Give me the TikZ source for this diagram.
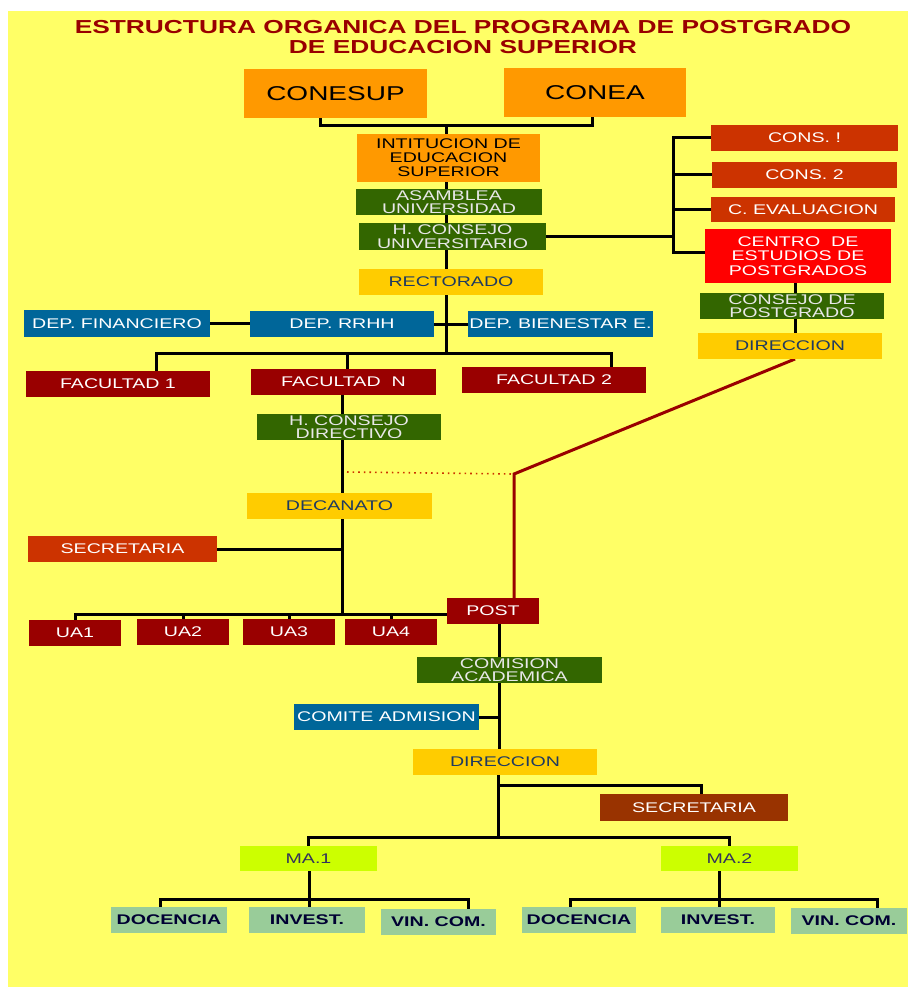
\documentclass[tikz,border=0pt]{standalone}
\usepackage{fontspec}
\newfontfamily\wf[FakeStretch=1.4]{Liberation Sans}
\definecolor{cYel}{HTML}{FFFF66}
\definecolor{cOra}{HTML}{FF9900}
\definecolor{cGrn}{HTML}{336600}
\definecolor{cGold}{HTML}{FFCC00}
\definecolor{cRust}{HTML}{CC3300}
\definecolor{cRed}{HTML}{FF0000}
\definecolor{cBlue}{HTML}{006699}
\definecolor{cDred}{HTML}{990000}
\definecolor{cBrown}{HTML}{993300}
\definecolor{cLime}{HTML}{CCFF00}
\definecolor{cSage}{HTML}{99CC99}
\definecolor{cNavy}{HTML}{1F3A60}
\definecolor{cLight}{HTML}{E8E8E8}
\definecolor{cTitle}{HTML}{990000}
\definecolor{cDark}{HTML}{000033}
\pgfdeclarelayer{bgl}
\pgfdeclarelayer{lnl}
\pgfsetlayers{bgl,lnl,main}
\tikzset{
  box/.style={rectangle, inner sep=0pt, outer sep=0pt, align=center,
    font=\wf\fontsize{14}{14}\selectfont},
  sz/.style n args={2}{minimum width=#1pt, minimum height=#2pt},
  ora/.style={box, fill=cOra, text=black},
  grn/.style={box, fill=cGrn, text=cLight, font=\wf\fontsize{14}{13.5}\selectfont},
  gld/.style={box, fill=cGold, text=cNavy},
  rst/.style={box, fill=cRust, text=white},
  blu/.style={box, fill=cBlue, text=white},
  drd/.style={box, fill=cDred, text=white},
  lim/.style={box, fill=cLime, text=cDark!80!white},
  sag/.style={box, fill=cSage, text=cDark, font=\wf\bfseries\fontsize{14}{14}\selectfont},
  conn/.style={line width=3pt, black},
  redl/.style={line width=3pt, cDred},
  dotl/.style={line width=1.6pt, cRust, dash pattern=on 1.6pt off 4pt}
}
\begin{document}
\begin{tikzpicture}[x=1pt, y=-1pt]
\useasboundingbox (0,0) rectangle (908,987);
\begin{pgfonlayer}{bgl}
\fill[white] (0,0) rectangle (908,987);
\fill[cYel] (8,11) rectangle (908,987);
\end{pgfonlayer}

% title
\node[align=center, text=cTitle, font=\wf\bfseries\fontsize{18.8}{20}\selectfont] (title) at (463,37)
  {ESTRUCTURA ORGANICA DEL PROGRAMA DE POSTGRADO\\DE EDUCACION SUPERIOR};

% top
\node[ora, sz={183}{49}, font=\wf\fontsize{20}{20}\selectfont] (conesup) at (335.5,93.5) {CONESUP};
\node[ora, sz={182}{49}, font=\wf\fontsize{20}{20}\selectfont] (conea) at (595,92.5) {CONEA};
\node[ora, sz={183}{48}] (ies) at (448.5,158) {INTITUCION DE\\EDUCACION\\SUPERIOR};
\node[grn, sz={186}{26}] (asamblea) at (449,202) {ASAMBLEA\\UNIVERSIDAD};
\node[grn, sz={187}{27}] (hcu) at (452.5,236.5) {H. CONSEJO\\UNIVERSITARIO};
\node[gld, sz={184}{26}] (rector) at (451,282) {RECTORADO};

% right column
\node[rst, sz={187}{26}] (cons1) at (804.5,138) {CONS. !};
\node[rst, sz={185}{26}] (cons2) at (804.5,175) {CONS. 2};
\node[rst, sz={184}{25}] (ceval) at (803,209.5) {C. EVALUACION};
\node[box, fill=cRed, text=white, sz={186}{54}, font=\wf\fontsize{14}{14.5}\selectfont] (centro) at (798,256) {CENTRO\ \ DE\\ESTUDIOS DE\\POSTGRADOS};
\node[grn, sz={184}{26}] (cpost) at (792,306) {CONSEJO DE\\POSTGRADO};
\node[gld, sz={184}{26}] (dirR) at (790,346) {DIRECCION};

% departments
\node[blu, sz={186}{27}] (depfin) at (117,323.5) {DEP. FINANCIERO};
\node[blu, sz={184}{26}] (rrhh) at (342,324) {DEP. RRHH};
\node[blu, sz={185}{26}] (bien) at (560.5,324) {DEP. BIENESTAR E.};

% faculties
\node[drd, sz={184}{26}] (fac1) at (118,384) {FACULTAD 1};
\node[drd, sz={185}{26}] (facN) at (343.5,382) {FACULTAD\ \ N};
\node[drd, sz={184}{26}] (fac2) at (554,380) {FACULTAD 2};
\node[grn, sz={184}{26}] (hcd) at (349,427) {H. CONSEJO\\DIRECTIVO};
\node[gld, sz={185}{26}] (decanato) at (339.5,506) {DECANATO};
\node[rst, sz={189}{26}] (secr1) at (122.5,549) {SECRETARIA};

% UA + post
\node[drd, sz={92}{26}] (ua1) at (75,633) {UA1};
\node[drd, sz={92}{26}] (ua2) at (183,632) {UA2};
\node[drd, sz={92}{26}] (ua3) at (289,632) {UA3};
\node[drd, sz={92}{26}] (ua4) at (391,632) {UA4};
\node[drd, sz={92}{26}] (post) at (493,611) {POST};

% lower
\node[grn, sz={185}{26}] (comision) at (509.5,670) {COMISION\\ACADEMICA};
\node[blu, sz={185}{26}] (comite) at (386.5,717) {COMITE ADMISION};
\node[gld, sz={184}{26}] (dirL) at (505,762) {DIRECCION};
\node[box, fill=cBrown, text=white, sz={188}{27}] (secr2) at (694,807.5) {SECRETARIA};
\node[lim, sz={137}{25}] (ma1) at (308.5,858.5) {MA.1};
\node[lim, sz={137}{25}] (ma2) at (729.5,858.5) {MA.2};
\node[sag, sz={116}{26}] (doc1) at (169,920) {DOCENCIA};
\node[sag, sz={116}{26}] (inv1) at (307,920) {INVEST.};
\node[sag, sz={115}{26}] (vin1) at (438.5,922) {VIN. COM.};
\node[sag, sz={114}{26}] (doc2) at (579,920) {DOCENCIA};
\node[sag, sz={114}{26}] (inv2) at (718,920) {INVEST.};
\node[sag, sz={116}{26}] (vin2) at (849,921) {VIN. COM.};

% junction coordinates
\coordinate (j1) at (446,126);
\coordinate (fb) at (446,353);
\coordinate (brm) at (673,236.5);
\coordinate (cx) at (795,300);
\coordinate (ub) at (342,614);
\coordinate (dt1) at (347,472);
\coordinate (rk) at (514,474);
\coordinate (sj) at (498,785);
\coordinate (mb) at (498,837);
\coordinate (lb1) at (309,899);
\coordinate (lb2) at (719,899);

\begin{pgfonlayer}{lnl}
\draw[conn] ([xshift=-15pt]conesup.south) |- (j1) -| ([xshift=-3pt]conea.south);
\draw[conn] (j1) -- (fb);
\draw[conn] (hcu.east) -- (brm);
\draw[conn] (cons1.west) -| ([yshift=4pt]centro.west -| brm) -- ([yshift=4pt]centro.west);
\draw[conn] (cons2.west) -- (cons2.west -| brm);
\draw[conn] (ceval.west) -- (ceval.west -| brm);
\draw[conn] (centro.south -| cx) -- (dirR.north -| cx);
\draw[conn] (depfin.east) -- (depfin.east -| rrhh.west);
\draw[conn] (rrhh.east) -- (bien.west);
\draw[conn] ([xshift=38pt]fac1.north) |- (fb) -| ([xshift=57pt]fac2.north);
\draw[conn] ([xshift=4pt]facN.north) -- ([xshift=4pt]facN.north |- fb);
\draw[conn] ([xshift=-1.5pt]facN.south) -- (ub);
\draw[conn] (secr1.east) -- (secr1.east -| ub);
\draw[conn] (ua1.north) |- (ub) -- (ub -| post.west);
\draw[conn] (ua2.north) -- (ua2.north |- ub);
\draw[conn] (ua3.north) -- (ua3.north |- ub);
\draw[conn] (ua4.north) -- (ua4.north |- ub);
\draw[conn] ([xshift=6pt]post.south) -- ([xshift=6pt]post.south |- dirL.north);
\draw[conn] (comite.east) -- ([xshift=6pt]comite.east -| post.south);
\draw[conn] ([xshift=-7pt]dirL.south) -- (mb);
\draw[conn] (sj) -| ([xshift=7pt]secr2.north);
\draw[conn] (ma1.north) |- (mb) -| (ma2.north);
\draw[conn] (ma1.south -| lb1) -- (lb1);
\draw[conn] ([xshift=-9pt]doc1.north) |- (lb1) -| ([xshift=30pt]vin1.north);
\draw[conn] (lb1) -- (inv1.north -| lb1);
\draw[conn] (ma2.south -| lb2) -- (lb2);
\draw[conn] ([xshift=-9pt]doc2.north) |- (lb2) -| ([xshift=28pt]vin2.north);
\draw[conn] (lb2) -- (inv2.north -| lb2);
\draw[dotl] (dt1) -- (rk);
\draw[redl] ([xshift=5pt]dirR.south) -- (rk) -- ([xshift=21pt]post.north);
\end{pgfonlayer}
\end{tikzpicture}
\end{document}
